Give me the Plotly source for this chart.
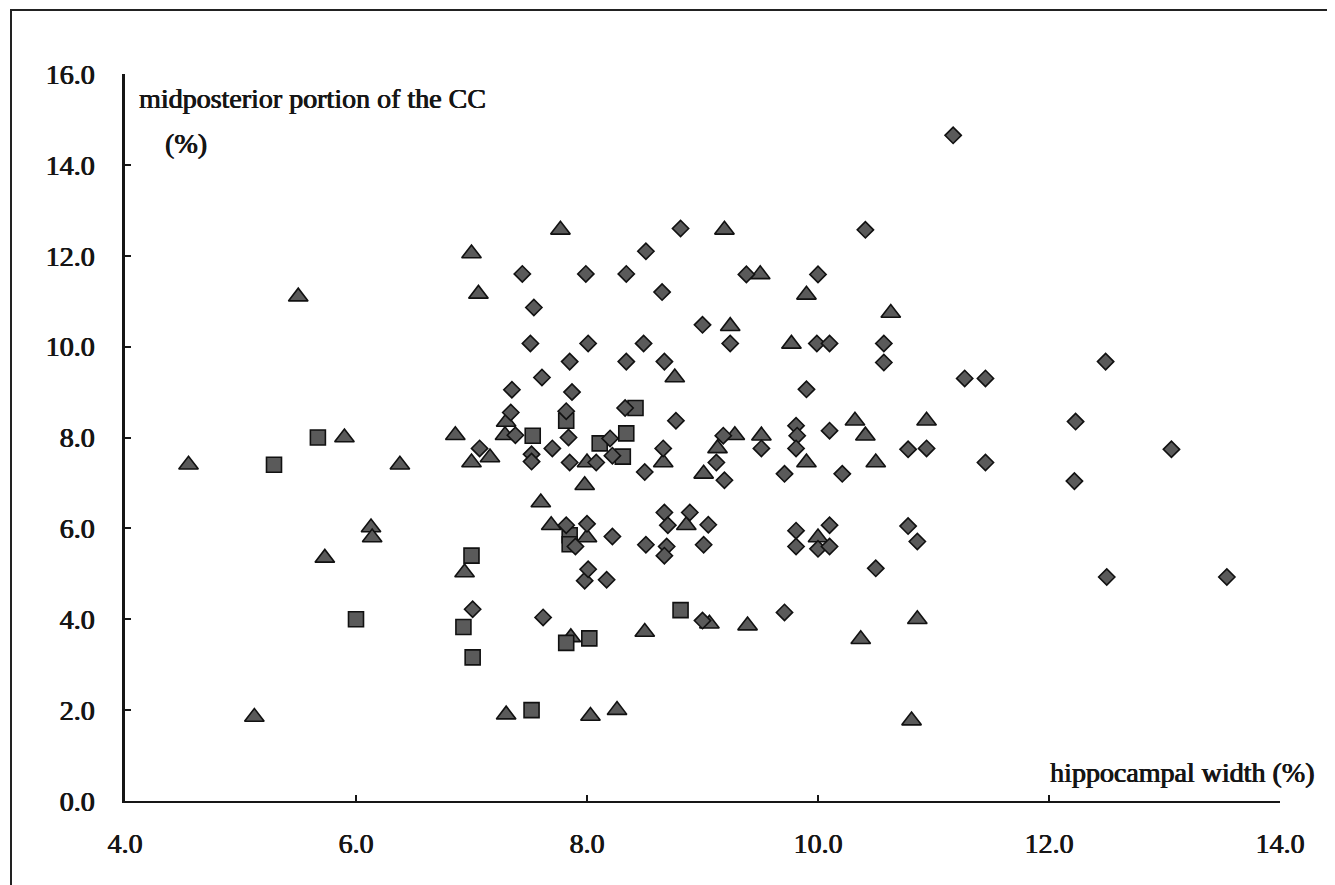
import plotly.graph_objects as go

# hippocampal width (%) / midposterior portion of the CC (%)
tri_x = [4.55, 5.12, 5.50, 5.73, 5.90, 6.13, 6.14, 6.38, 6.86, 6.94, 7.00, 7.00, 7.06, 7.16,
         7.29, 7.30, 7.30, 7.60, 7.69, 7.77, 7.86, 7.98, 8.00, 8.00, 8.03, 8.26, 8.50, 8.66,
         8.76, 8.86, 9.01, 9.06, 9.13, 9.19, 9.24, 9.28, 9.39, 9.50, 9.51, 9.77, 9.90, 9.90,
         10.00, 10.32, 10.37, 10.41, 10.50, 10.63, 10.81, 10.86, 10.94]
tri_y = [7.40, 1.85, 11.10, 5.35, 8.00, 6.02, 5.80, 7.40, 8.05, 5.03, 12.05, 7.45, 11.16, 7.56,
         8.05, 8.34, 1.90, 6.57, 6.07, 12.57, 3.60, 6.95, 7.45, 5.80, 1.87, 2.00, 3.72, 7.45,
         9.32, 6.07, 7.20, 3.90, 7.76, 12.57, 10.45, 8.05, 3.86, 11.59, 8.04, 10.06, 11.14, 7.45,
         5.80, 8.37, 3.56, 8.04, 7.45, 10.74, 1.77, 4.00, 8.37]

sq_x = [5.29, 5.67, 6.00, 6.93, 7.00, 7.01, 7.52, 7.53, 7.82, 7.82, 7.85, 7.85, 8.02, 8.11,
        8.31, 8.34, 8.42, 8.81]
sq_y = [7.40, 8.00, 4.00, 3.83, 5.40, 3.16, 2.00, 8.04, 3.48, 8.37, 5.85, 5.65, 3.58, 7.87,
        7.58, 8.09, 8.65, 4.20]

dia_x = [7.01, 7.07, 7.34, 7.35, 7.38, 7.44, 7.51, 7.52, 7.52, 7.54, 7.61, 7.62, 7.70, 7.82,
         7.82, 7.84, 7.85, 7.85, 7.87, 7.90, 7.98, 7.99, 8.00, 8.01, 8.01, 8.08, 8.17, 8.20,
         8.22, 8.22, 8.33, 8.34, 8.34, 8.49, 8.50, 8.51, 8.51, 8.65, 8.66, 8.67, 8.67, 8.70,
         8.69, 8.67, 8.77, 8.81, 8.89, 9.00, 9.00, 9.01, 9.05, 9.12, 9.18, 9.19, 9.24, 9.38,
         9.51, 9.71, 9.71, 9.81, 9.82, 9.81, 9.81, 9.81, 9.90, 9.99, 10.00, 10.00, 10.10, 10.10,
         10.10, 10.10, 10.21, 10.41, 10.50, 10.57, 10.57, 10.78, 10.78, 10.86, 10.94, 11.17,
         11.27, 11.45, 11.45, 12.22, 12.23, 12.49, 12.50, 13.06, 13.54]
dia_y = [4.22, 7.76, 8.55, 9.05, 8.05, 11.60, 10.07, 7.63, 7.47, 10.86, 9.32, 4.04, 7.76, 8.58,
         6.07, 8.00, 9.67, 7.45, 9.00, 5.60, 4.85, 11.60, 6.10, 10.07, 5.10, 7.45, 4.87, 7.98,
         7.60, 5.82, 8.65, 11.60, 9.67, 10.07, 7.24, 12.10, 5.64, 11.20, 7.76, 9.67, 6.35, 6.07,
         5.60, 5.40, 8.37, 12.60, 6.35, 10.48, 3.97, 5.64, 6.08, 7.45, 8.04, 7.06, 10.07, 11.59,
         7.76, 7.20, 4.15, 8.26, 8.04, 7.76, 5.95, 5.60, 9.06, 10.07, 11.59, 5.55, 10.07, 8.15,
         6.07, 5.60, 7.20, 12.57, 5.12, 10.07, 9.65, 7.74, 6.05, 5.71, 7.76, 14.65,
         9.30, 9.30, 7.45, 7.04, 8.35, 9.67, 4.93, 7.74, 4.93]

x_ticks = [4.0, 6.0, 8.0, 10.0, 12.0, 14.0]
y_ticks = [0.0, 2.0, 4.0, 6.0, 8.0, 10.0, 12.0, 14.0, 16.0]

FONT = "Liberation Serif"
FILL = "#5a5a5a"
EDGE = "#111111"
INK = "#161616"
SHADOW = "0.6px 0px 0px #161616, -0.3px 0px 0px #161616"

fig = go.Figure()
fig.add_trace(go.Scatter(x=tri_x, y=tri_y, mode="markers", name="triangle",
                         marker=dict(symbol="triangle-up", size=17, color=FILL,
                                     line=dict(color=EDGE, width=1.6))))
fig.add_trace(go.Scatter(x=sq_x, y=sq_y, mode="markers", name="square",
                         marker=dict(symbol="square", size=15, color=FILL,
                                     line=dict(color=EDGE, width=1.6))))
fig.add_trace(go.Scatter(x=dia_x, y=dia_y, mode="markers", name="diamond",
                         marker=dict(symbol="diamond", size=12.5, color=FILL,
                                     line=dict(color=EDGE, width=1.6))))

W, H = 1335, 885
L, R, T, B = 117, 63, 66, 92
pw, ph = W - L - R, H - T - B

def px_to_paper_x(px):
    return (px - L) / pw

def px_to_paper_y(py):
    return (H - B - py) / ph

def tfont():
    return dict(family=FONT, size=28, color=INK, shadow=SHADOW)

fig.update_layout(
    width=W, height=H,
    margin=dict(l=L, r=R, t=T, b=B),
    paper_bgcolor="white", plot_bgcolor="white",
    showlegend=False,
    font=dict(family=FONT, color=INK),
    xaxis=dict(range=[4, 14], tickvals=x_ticks, tickformat=".1f",
               showgrid=False, zeroline=False, showline=True, linecolor=INK, linewidth=2,
               ticks="inside", ticklen=6, tickwidth=1.5, tickcolor=INK,
               tickfont=tfont(), ticklabelstandoff=16),
    yaxis=dict(range=[0, 16], tickvals=y_ticks, tickformat=".1f",
               showgrid=False, zeroline=False, showline=True, linecolor=INK, linewidth=2.5,
               ticks="inside", ticklen=6, tickwidth=1.5, tickcolor=INK,
               tickfont=tfont(), ticklabelstandoff=22),
    annotations=[
        dict(text="midposterior portion of the CC", x=4.1, y=15.47, xref="x", yref="y",
             xanchor="left", yanchor="middle", showarrow=False, font=tfont()),
        dict(text="(%)", x=4.33, y=14.48, xref="x", yref="y",
             xanchor="left", yanchor="middle", showarrow=False, font=tfont()),
        dict(text="hippocampal width (%)", x=px_to_paper_x(1308), y=px_to_paper_y(764),
             xref="paper", yref="paper",
             xanchor="right", yanchor="middle", showarrow=False, font=tfont()),
    ],
    shapes=[
        dict(type="rect", xref="paper", yref="paper",
             x0=px_to_paper_x(3), x1=px_to_paper_x(1330),
             y0=px_to_paper_y(884), y1=px_to_paper_y(2),
             line=dict(color="#222222", width=2), fillcolor="rgba(0,0,0,0)", layer="below"),
    ],
)

fig.write_html("out.html")
